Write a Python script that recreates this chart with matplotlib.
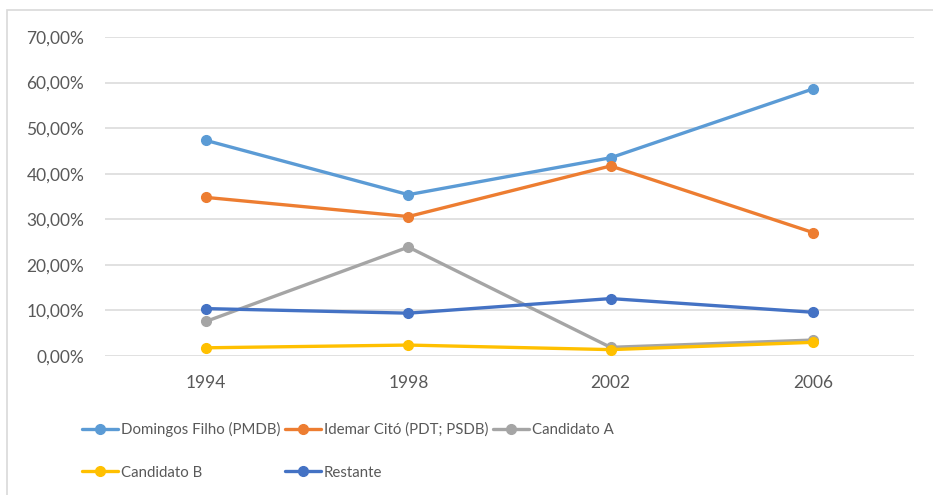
import matplotlib
matplotlib.use("Agg")
import matplotlib.pyplot as plt
from matplotlib.patches import Rectangle
from matplotlib.ticker import FuncFormatter, MultipleLocator

years = ["1994", "1998", "2002", "2006"]
domingos = [47.3, 35.4, 43.5, 58.6]
idemar = [34.8, 30.6, 41.7, 27.1]
cand_a = [7.6, 23.9, 1.9, 3.5]
cand_b = [1.8, 2.4, 1.4, 3.0]
restante = [10.4, 9.4, 12.6, 9.6]

series = [
    ("Domingos Filho (PMDB)", domingos, "#5B9BD5"),
    ("Idemar Citó (PDT; PSDB)", idemar, "#ED7D31"),
    ("Candidato A", cand_a, "#A5A5A5"),
    ("Candidato B", cand_b, "#FFC000"),
    ("Restante", restante, "#4472C4"),
]

plt.rcParams['font.family'] = ['Lato', 'DejaVu Sans']
W, H = 933, 495
fig = plt.figure(figsize=(W / 100, H / 100), dpi=100)
ax = fig.add_axes([105 / W, 1 - 356 / H, (914 - 105) / W, (356 - 37) / H])

x = list(range(len(years)))
handles = {}
for name, vals, col in series:
    ln, = ax.plot(x, vals, color=col, lw=2.4, marker='o', markersize=7,
                  solid_capstyle='round', label=name, zorder=3)
    handles[name] = ln

ax.set_xlim(-0.5, len(years) - 0.5)
ax.set_ylim(0, 70)
ax.yaxis.set_major_locator(MultipleLocator(10))
ax.yaxis.set_major_formatter(FuncFormatter(lambda v, p: f"{v:.2f}%".replace('.', ',')))
ax.set_xticks(x)
ax.set_xticklabels(years)
ax.grid(axis='y', color='#D9D9D9', lw=1.1, zorder=0)
for s in ax.spines.values():
    s.set_visible(False)
ax.tick_params(axis='both', length=0, labelsize=12.5, colors='#595959')
ax.tick_params(axis='y', pad=15)
ax.tick_params(axis='x', pad=14)

order = ["Domingos Filho (PMDB)", "Candidato B", "Idemar Citó (PDT; PSDB)", "Restante", "Candidato A"]
leg = fig.legend([handles[n] for n in order], order, ncols=3, loc='upper left',
                 bbox_to_anchor=(82 / W, 1 - 422 / H), frameon=False,
                 fontsize=10.8, handlelength=2.4, handletextpad=0.2,
                 columnspacing=0.3, labelspacing=1.9, borderpad=0, borderaxespad=0,
                 labelcolor='#595959')

fig.patches.append(Rectangle((7 / W, -0.1), 2, 1 - 10 / H + 0.1, transform=fig.transFigure,
                             fill=False, edgecolor='#D9D9D9', lw=1.2))

fig.savefig("out.png", dpi=100)
